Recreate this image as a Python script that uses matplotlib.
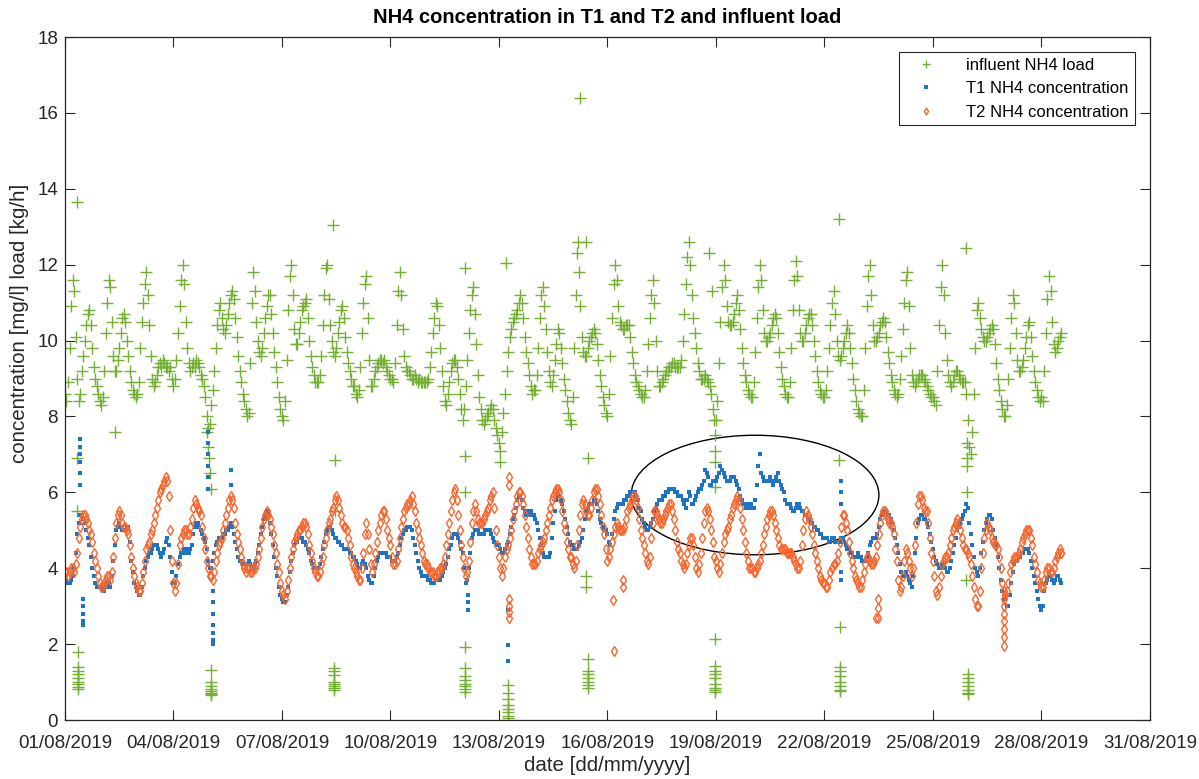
import matplotlib
matplotlib.use('Agg')
import matplotlib.pyplot as plt
import matplotlib.dates as mdates
from matplotlib.patches import Ellipse
from datetime import datetime
import numpy as np

plt.rcParams['font.family'] = ['Liberation Sans', 'DejaVu Sans']

# hourly readings from 01/08/2019 00:00, one row per day
influent = [
    [8.6, 8.4, 8.9, 9.8, 10.9, 11.6, 11.3, 10.1, 9.0, 8.4, 8.6, 9.2, 9.6, 10.0, 10.4, 10.7, 10.8, 10.4, 9.8, 9.3, 9.0, 8.8, 8.6, 8.4],
    [8.3, 8.5, 9.2, 10.2, 11.0, 11.6, 11.4, 10.5, 9.6, 9.2, 9.2, 9.5, 9.8, 10.2, 10.6, 10.7, 10.5, 10.0, 9.6, 9.2, 8.9, 8.7, 8.6, 8.5],
    [8.6, 8.9, 9.8, 10.5, 11.0, 11.5, 11.8, 11.2, 10.4, 9.6, 9.0, 8.8, 8.9, 9.1, 9.3, 9.4, 9.3, 9.5, 9.4, 9.3, 9.3, 9.2, 9.3, 9.0],
    [8.8, 9.0, 9.5, 10.2, 10.9, 11.6, 12.0, 11.5, 10.5, 9.8, 9.4, 9.2, 9.3, 9.4, 9.3, 9.5, 9.4, 9.3, 9.1, 9.0, 8.8, 8.5, 8.0, 7.7],
    [7.8, 8.3, 8.7, 9.2, 9.8, 10.4, 10.8, 11.0, 10.6, 10.3, 10.2, 10.4, 10.7, 11.0, 11.2, 11.3, 11.1, 10.6, 10.1, 9.6, 9.2, 8.9, 8.6, 8.4],
    [8.2, 8.0, 8.1, 9.4, 11.0, 11.8, 11.3, 10.5, 10.0, 9.7, 9.6, 9.8, 10.2, 10.6, 10.9, 11.2, 11.2, 10.7, 10.2, 9.7, 9.3, 8.9, 8.5, 8.2],
    [8.0, 7.9, 8.4, 9.5, 10.8, 11.7, 12.0, 11.2, 10.3, 9.9, 9.9, 10.2, 10.5, 10.8, 10.9, 11.0, 11.1, 10.6, 10.0, 9.6, 9.3, 9.1, 8.9, 8.9],
    [8.9, 9.1, 9.6, 10.4, 11.2, 11.9, 12.0, 11.1, 10.4, 10.0, 9.7, 9.6, 9.8, 10.2, 10.5, 10.8, 10.9, 10.6, 10.1, 9.7, 9.4, 9.2, 9.0, 8.8],
    [8.8, 8.6, 8.5, 8.7, 9.3, 10.2, 11.0, 11.5, 11.7, 10.6, 9.5, 8.8, 8.8, 9.0, 9.2, 9.3, 9.4, 9.5, 9.5, 9.4, 9.5, 9.3, 9.2, 9.1],
    [9.0, 9.0, 8.9, 9.4, 10.4, 11.3, 11.8, 11.2, 10.3, 9.6, 9.3, 9.2, 9.2, 9.1, 9.0, 9.0, 9.1, 9.0, 8.9, 9.0, 8.9, 8.9, 8.9, 8.9],
    [8.9, 9.0, 9.3, 9.7, 10.2, 10.6, 11.0, 10.9, 10.4, 9.8, 9.2, 8.8, 8.4, 8.3, 8.6, 8.9, 9.2, 9.4, 9.5, 9.5, 9.3, 9.0, 8.6, 8.2],
    [7.9, 8.2, 8.8, 9.5, 10.2, 10.8, 11.2, 11.4, 10.7, 9.9, 9.1, 8.5, 8.2, 7.9, 7.8, 7.9, 8.0, 8.1, 8.2, 8.3, 8.2, 7.9, 7.7, 7.5],
    [7.3, 7.1, 7.6, 8.1, 8.6, 9.2, 9.7, 10.1, 10.3, 10.5, 10.6, 10.7, 10.8, 11.0, 11.2, 11.0, 10.6, 10.1, 9.7, 9.4, 9.1, 8.8, 8.6, 8.7],
    [8.7, 9.1, 9.8, 10.6, 11.2, 11.4, 10.9, 10.3, 9.7, 9.2, 8.9, 8.8, 9.1, 9.5, 9.9, 10.3, 10.2, 9.8, 9.4, 9.0, 8.7, 8.4, 8.1, 7.9],
    [7.8, 8.5, 9.8, 11.2, 12.3, 11.8, 10.9, 10.1, 9.7, 9.6, 9.6, 9.8, 10.0, 10.1, 10.2, 10.3, 10.2, 9.9, 9.5, 9.1, 8.8, 8.5, 8.3, 8.1],
    [8.0, 8.6, 9.6, 10.6, 11.5, 12.0, 11.6, 10.9, 10.5, 10.4, 10.3, 10.3, 10.4, 10.4, 10.4, 10.1, 9.7, 9.4, 9.1, 8.9, 8.8, 8.7, 8.6, 8.5],
    [8.5, 8.7, 9.2, 9.9, 10.6, 11.2, 11.6, 11.0, 10.0, 9.2, 8.8, 8.8, 8.9, 9.0, 9.1, 9.2, 9.2, 9.3, 9.3, 9.4, 9.4, 9.3, 9.3, 9.3],
    [9.3, 9.5, 10.0, 10.7, 11.5, 12.2, 12.6, 12.0, 11.2, 10.6, 10.2, 9.8, 9.4, 9.2, 9.0, 9.0, 9.0, 9.1, 9.0, 8.9, 8.8, 8.6, 8.2, 7.9],
    [7.9, 8.4, 9.4, 10.5, 11.4, 12.0, 11.6, 10.9, 10.5, 10.4, 10.4, 10.5, 10.7, 11.0, 11.2, 10.8, 10.3, 9.8, 9.4, 9.1, 8.9, 8.7, 8.6, 8.5],
    [8.5, 8.9, 9.7, 10.6, 11.4, 12.0, 11.6, 10.8, 10.2, 10.0, 10.0, 10.1, 10.2, 10.4, 10.6, 10.7, 10.6, 10.2, 9.7, 9.3, 9.0, 8.8, 8.6, 8.5],
    [8.5, 8.9, 9.8, 10.8, 11.6, 12.1, 11.7, 10.8, 10.2, 10.0, 10.0, 10.2, 10.4, 10.6, 10.7, 10.7, 10.4, 10.0, 9.6, 9.2, 8.9, 8.7, 8.6, 8.5],
    [8.5, 8.7, 9.2, 9.8, 10.4, 11.0, 11.3, 10.7, 10.0, 9.6, 9.5, 9.6, 9.8, 10.0, 10.2, 10.4, 10.2, 9.8, 9.4, 9.0, 8.7, 8.4, 8.2, 8.1],
    [8.0, 8.0, 8.7, 9.8, 10.9, 11.7, 12.0, 11.2, 10.4, 10.0, 10.0, 10.1, 10.2, 10.4, 10.5, 10.6, 10.5, 10.1, 9.7, 9.4, 9.1, 8.9, 8.7, 8.6],
    [8.5, 8.6, 9.0, 9.6, 10.3, 11.0, 11.6, 11.8, 10.9, 9.8, 9.1, 8.9, 8.8, 8.9, 9.0, 9.1, 9.1, 9.1, 9.0, 8.9, 8.8, 8.7, 8.6, 8.5],
    [8.5, 8.4, 8.3, 9.2, 10.4, 11.4, 12.0, 11.2, 10.2, 9.5, 9.1, 8.9, 8.8, 8.9, 9.1, 9.2, 9.2, 9.1, 9.0, 8.9, 8.9, 8.9, 8.6, 7.9],
    [7.2, 7.0, 7.6, 8.6, 9.8, 10.8, 11.0, 10.6, 10.3, 10.1, 10.0, 10.0, 10.1, 10.2, 10.3, 10.4, 10.3, 9.9, 9.4, 9.0, 8.7, 8.4, 8.2, 8.0],
    [8.0, 8.3, 9.0, 9.8, 10.6, 11.2, 11.0, 10.2, 9.5, 9.2, 9.2, 9.3, 9.5, 9.8, 10.1, 10.4, 10.5, 10.1, 9.6, 9.2, 8.9, 8.7, 8.5, 8.4],
    [8.5, 8.4, 9.2, 10.2, 11.1, 11.7, 11.3, 10.5, 9.9, 9.7, 9.8, 10.0, 10.1, 10.2],
]

t1_conc = [
    [3.8, 3.7, 3.6, 3.6, 3.7, 3.8, 4.0, 4.4, 4.9, 5.2, 5.4, 5.4, 5.3, 5.2, 5.0, 4.8, 4.6, 4.3, 4.0, 3.8, 3.6, 3.5, 3.5, 3.5],
    [3.5, 3.4, 3.4, 3.5, 3.6, 3.6, 3.5, 3.8, 4.2, 4.6, 5.0, 5.1, 5.2, 5.1, 5.0, 5.0, 5.0, 5.1, 5.1, 4.7, 4.2, 3.9, 3.6, 3.5],
    [3.4, 3.3, 3.3, 3.5, 3.8, 4.0, 4.2, 4.3, 4.4, 4.4, 4.5, 4.6, 4.6, 4.6, 4.5, 4.4, 4.3, 4.4, 4.5, 4.7, 4.8, 4.6, 4.3, 3.9],
    [3.6, 3.6, 3.8, 4.1, 4.3, 4.4, 4.4, 4.5, 4.5, 4.4, 4.4, 4.5, 4.6, 4.9, 5.1, 5.2, 5.2, 5.1, 5.0, 4.9, 4.8, 4.7, 4.5, 4.2],
    [4.0, 4.0, 4.2, 4.4, 4.6, 4.7, 4.8, 4.8, 4.8, 4.9, 4.9, 5.0, 5.0, 5.1, 5.2, 5.1, 4.9, 4.7, 4.5, 4.3, 4.2, 4.2, 4.1, 4.1],
    [4.1, 4.1, 4.2, 4.1, 4.0, 4.0, 4.1, 4.2, 4.4, 4.6, 4.9, 5.1, 5.3, 5.4, 5.5, 5.4, 5.2, 4.9, 4.6, 4.3, 4.0, 3.8, 3.5, 3.3],
    [3.2, 3.1, 3.1, 3.3, 3.5, 3.9, 4.2, 4.4, 4.6, 4.7, 4.7, 4.8, 4.8, 4.8, 4.7, 4.7, 4.6, 4.5, 4.4, 4.2, 4.1, 4.0, 4.0, 4.0],
    [4.0, 4.1, 4.3, 4.5, 4.7, 4.9, 5.0, 5.1, 5.1, 5.0, 4.9, 4.8, 4.8, 4.7, 4.7, 4.6, 4.6, 4.5, 4.5, 4.5, 4.5, 4.4, 4.4, 4.3],
    [4.3, 4.2, 4.1, 4.0, 4.0, 4.1, 4.2, 4.1, 4.0, 3.8, 3.7, 3.6, 3.6, 3.8, 4.0, 4.2, 4.3, 4.4, 4.4, 4.4, 4.4, 4.4, 4.3, 4.3],
    [4.3, 4.2, 4.2, 4.2, 4.3, 4.4, 4.6, 4.8, 4.9, 5.0, 5.0, 5.1, 5.1, 5.1, 5.0, 4.8, 4.6, 4.4, 4.2, 4.0, 3.9, 3.8, 3.8, 3.8],
    [3.8, 3.7, 3.7, 3.6, 3.6, 3.6, 3.7, 3.7, 3.7, 3.7, 3.8, 3.9, 4.0, 4.1, 4.3, 4.5, 4.6, 4.8, 4.9, 4.9, 4.9, 4.8, 4.7, 4.5],
    [4.4, 4.0, 3.6, 3.7, 4.0, 4.4, 4.8, 4.9, 5.0, 5.0, 5.0, 4.9, 4.9, 4.9, 4.9, 5.0, 5.0, 5.0, 5.0, 4.9, 4.8, 4.7, 4.6, 4.6],
    [4.6, 4.5, 4.4, 4.4, 4.5, 4.6, 4.7, 4.9, 5.1, 5.3, 5.4, 5.6, 5.8, 5.9, 5.9, 5.8, 5.6, 5.5, 5.4, 5.4, 5.5, 5.5, 5.4, 5.4],
    [5.3, 5.2, 5.0, 4.8, 4.6, 4.4, 4.3, 4.3, 4.3, 4.3, 4.4, 4.8, 5.2, 5.5, 5.8, 5.9, 5.9, 5.8, 5.7, 5.5, 5.3, 5.1, 4.9, 4.7],
    [4.6, 4.6, 4.5, 4.5, 4.5, 4.6, 4.7, 4.8, 5.0, 5.3, 5.5, 5.6, 5.7, 5.7, 5.7, 5.8, 5.8, 5.7, 5.5, 5.3, 5.2, 5.1, 5.0, 5.0],
    [4.9, 4.7, 4.6, 4.9, 5.3, 5.5, 5.6, 5.7, 5.7, 5.7, 5.7, 5.8, 5.8, 5.9, 5.9, 6.0, 6.0, 6.0, 6.0, 5.9, 5.8, 5.6, 5.5, 5.3],
    [5.2, 5.1, 5.0, 5.0, 5.1, 5.2, 5.3, 5.5, 5.6, 5.7, 5.8, 5.8, 5.8, 5.9, 5.9, 6.0, 6.0, 6.1, 6.1, 6.1, 6.1, 6.0, 6.0, 5.9],
    [5.9, 5.9, 5.8, 5.7, 5.6, 5.8, 6.0, 5.9, 5.7, 5.7, 5.8, 5.9, 6.0, 6.1, 6.1, 6.2, 6.3, 6.6, 6.5, 6.4, 6.2, 6.2, 6.3, 6.3],
    [6.3, 6.4, 6.5, 6.7, 6.6, 6.5, 6.4, 6.3, 6.3, 6.3, 6.4, 6.4, 6.4, 6.3, 6.2, 6.1, 5.9, 5.8, 5.7, 5.7, 5.6, 5.6, 5.7, 5.7],
    [5.6, 5.6, 5.8, 6.2, 6.7, 7.0, 6.5, 6.4, 6.3, 6.3, 6.3, 6.3, 6.4, 6.3, 6.2, 6.3, 6.4, 6.5, 6.3, 6.2, 6.1, 6.0, 5.8, 5.7],
    [5.7, 5.7, 5.6, 5.5, 5.5, 5.6, 5.7, 5.7, 5.6, 5.5, 5.5, 5.4, 5.4, 5.3, 5.3, 5.2, 5.2, 5.1, 5.1, 5.0, 5.0, 4.9, 4.9, 4.8],
    [4.8, 4.8, 4.8, 4.7, 4.7, 4.8, 4.8, 4.7, 4.7, 4.7, 4.7, 4.8, 4.8, 4.7, 4.6, 4.5, 4.5, 4.4, 4.4, 4.3, 4.3, 4.3, 4.4, 4.3],
    [4.3, 4.2, 4.2, 4.2, 4.3, 4.4, 4.6, 4.7, 4.8, 4.8, 4.8, 4.9, 5.1, 5.3, 5.4, 5.5, 5.5, 5.5, 5.4, 5.4, 5.3, 5.2, 5.0, 4.8],
    [4.6, 4.4, 4.1, 3.9, 3.8, 3.8, 3.9, 3.8, 3.7, 3.6, 3.5, 3.8, 4.4, 4.8, 5.2, 5.3, 5.4, 5.4, 5.3, 5.3, 5.2, 5.1, 4.9, 4.7],
    [4.5, 4.3, 4.2, 4.1, 4.0, 4.0, 4.1, 4.1, 4.0, 3.9, 3.9, 4.0, 4.2, 4.4, 4.6, 4.8, 5.0, 5.1, 5.2, 5.3, 5.4, 5.5, 5.7, 5.6],
    [5.2, 4.9, 4.6, 4.3, 4.0, 3.9, 3.8, 4.0, 4.4, 4.7, 5.0, 5.2, 5.3, 5.4, 5.4, 5.3, 5.0, 4.8, 4.6, 4.3, 4.0, 3.7, 3.4, 3.2],
    [3.2, 3.0, 3.0, 3.3, 3.6, 3.9, 4.1, 4.2, 4.2, 4.3, 4.3, 4.4, 4.4, 4.5, 4.5, 4.5, 4.4, 4.2, 4.0, 3.8, 3.6, 3.4, 3.2, 3.0],
    [2.9, 3.0, 3.4, 3.6, 3.7, 3.8, 3.8, 3.7, 3.6, 3.7, 3.8, 3.8, 3.7, 3.6],
]

t2_conc = [
    [3.9, 3.9, 3.8, 3.9, 4.0, 4.0, 3.9, 4.1, 4.4, 4.8, 5.1, 5.3, 5.4, 5.4, 5.3, 5.2, 5.0, 4.9, 4.7, 4.4, 4.2, 4.0, 3.8, 3.6],
    [3.5, 3.5, 3.6, 3.7, 3.8, 3.8, 3.7, 3.9, 4.3, 4.8, 5.2, 5.4, 5.5, 5.4, 5.2, 5.1, 5.1, 5.0, 4.9, 4.6, 4.3, 4.0, 3.8, 3.6],
    [3.5, 3.4, 3.4, 3.6, 3.9, 4.2, 4.5, 4.6, 4.7, 4.9, 5.0, 5.2, 5.4, 5.6, 5.8, 6.0, 6.1, 6.2, 6.3, 6.4, 6.3, 5.9, 5.0, 4.2],
    [3.6, 3.4, 3.6, 4.1, 4.6, 4.8, 4.9, 5.0, 5.0, 4.9, 4.9, 5.1, 5.3, 5.6, 5.8, 5.7, 5.6, 5.5, 5.4, 5.1, 4.8, 4.5, 4.2, 4.0],
    [3.8, 3.8, 3.7, 3.9, 4.2, 4.4, 4.6, 4.7, 4.8, 5.0, 5.2, 5.4, 5.6, 5.8, 5.9, 5.8, 5.6, 5.2, 4.9, 4.7, 4.5, 4.3, 4.1, 4.0],
    [3.9, 4.0, 4.0, 3.9, 3.9, 4.0, 4.0, 4.1, 4.3, 4.5, 4.8, 5.1, 5.3, 5.4, 5.5, 5.4, 5.3, 5.1, 4.9, 4.6, 4.4, 4.1, 3.9, 3.6],
    [3.4, 3.3, 3.2, 3.4, 3.7, 4.0, 4.3, 4.5, 4.7, 4.8, 4.9, 5.0, 5.0, 5.1, 5.2, 5.2, 5.1, 4.9, 4.6, 4.4, 4.2, 4.0, 3.9, 3.8],
    [3.8, 3.9, 4.1, 4.3, 4.6, 4.8, 5.0, 5.2, 5.3, 5.5, 5.6, 5.8, 5.9, 5.8, 5.6, 5.4, 5.2, 5.1, 5.1, 5.0, 4.8, 4.6, 4.3, 4.1],
    [4.0, 3.9, 3.8, 3.7, 3.7, 4.0, 4.4, 4.9, 5.2, 4.9, 4.5, 4.1, 3.9, 4.1, 4.4, 4.7, 5.0, 5.2, 5.4, 5.5, 5.5, 5.3, 5.0, 4.8],
    [4.6, 4.3, 4.1, 4.1, 4.2, 4.5, 4.8, 5.1, 5.3, 5.5, 5.6, 5.7, 5.7, 5.8, 5.9, 5.7, 5.5, 5.2, 5.0, 4.8, 4.6, 4.4, 4.2, 4.1],
    [4.1, 4.0, 3.9, 3.9, 3.9, 3.8, 3.8, 3.9, 3.9, 4.0, 4.0, 4.1, 4.3, 4.6, 4.9, 5.2, 5.5, 5.8, 6.0, 6.1, 5.8, 5.4, 5.0, 4.6],
    [4.3, 4.0, 3.8, 3.9, 4.2, 4.7, 5.2, 5.5, 5.7, 5.5, 5.3, 5.2, 5.2, 5.2, 5.3, 5.4, 5.5, 5.6, 5.8, 5.9, 6.0, 5.6, 5.0, 4.6],
    [4.3, 4.0, 3.8, 4.0, 4.3, 4.5, 4.6, 4.8, 5.0, 5.3, 5.5, 5.7, 5.9, 6.0, 6.0, 5.9, 5.7, 5.4, 5.1, 4.8, 4.5, 4.3, 4.1, 4.1],
    [4.1, 4.2, 4.4, 4.5, 4.6, 4.7, 4.8, 5.0, 5.2, 5.4, 5.6, 5.8, 5.9, 6.0, 6.1, 6.1, 6.0, 5.8, 5.5, 5.2, 5.0, 4.7, 4.5, 4.3],
    [4.3, 4.1, 4.0, 4.2, 4.6, 5.0, 5.4, 5.7, 5.8, 5.7, 5.5, 5.4, 5.4, 5.6, 5.8, 6.0, 6.1, 6.1, 5.9, 5.7, 5.4, 5.1, 4.9, 4.5],
    [4.2, 4.3, 4.5, 4.7, 4.9, 5.1, 5.2, 5.1, 5.0, 5.0, 5.0, 5.1, 5.3, 5.5, 5.6, 5.7, 5.8, 5.9, 5.9, 5.8, 5.6, 5.3, 5.0, 4.8],
    [4.6, 4.4, 4.2, 4.1, 4.3, 4.8, 5.2, 5.5, 5.5, 5.4, 5.3, 5.2, 5.2, 5.3, 5.4, 5.5, 5.6, 5.7, 5.7, 5.5, 5.3, 5.0, 4.7, 4.5],
    [4.4, 4.2, 4.1, 4.0, 4.1, 4.4, 4.6, 4.8, 4.8, 4.6, 4.3, 4.0, 3.9, 4.1, 4.4, 4.8, 5.2, 5.5, 5.6, 5.5, 5.3, 5.0, 4.7, 4.3],
    [4.2, 4.0, 3.9, 4.1, 4.4, 4.7, 4.9, 5.0, 5.1, 5.3, 5.4, 5.6, 5.7, 5.8, 5.9, 5.8, 5.6, 5.3, 5.0, 4.7, 4.4, 4.2, 4.0, 4.0],
    [4.0, 3.9, 3.9, 4.0, 4.1, 4.2, 4.4, 4.6, 4.9, 5.1, 5.3, 5.4, 5.5, 5.5, 5.4, 5.2, 5.0, 4.8, 4.6, 4.5, 4.5, 4.5, 4.5, 4.4],
    [4.4, 4.4, 4.4, 4.3, 4.2, 4.1, 4.0, 4.0, 4.2, 4.6, 5.0, 5.3, 5.5, 5.4, 5.3, 5.1, 4.9, 4.6, 4.4, 4.2, 4.0, 3.8, 3.7, 3.6],
    [3.6, 3.5, 3.5, 3.7, 3.9, 4.0, 4.1, 4.1, 4.2, 4.4, 4.7, 5.1, 5.4, 5.4, 5.2, 5.0, 4.7, 4.4, 4.2, 4.0, 3.8, 3.7, 3.6, 3.5],
    [3.5, 3.7, 3.9, 4.1, 4.3, 4.3, 4.2, 4.1, 4.1, 4.2, 4.3, 4.6, 4.9, 5.2, 5.4, 5.5, 5.5, 5.4, 5.3, 5.2, 5.2, 5.1, 4.9, 4.5],
    [4.2, 3.7, 3.4, 3.5, 3.8, 4.2, 4.5, 4.4, 4.2, 4.0, 3.8, 4.0, 4.6, 5.2, 5.7, 5.9, 5.9, 5.8, 5.6, 5.5, 5.5, 5.2, 4.8, 4.4],
    [4.2, 3.8, 3.4, 3.3, 3.5, 3.8, 4.1, 4.2, 4.3, 4.3, 4.4, 4.6, 4.8, 5.0, 5.1, 5.2, 5.3, 5.2, 5.0, 4.8, 4.6, 4.5, 4.5, 4.4],
    [4.3, 4.1, 3.8, 3.5, 3.2, 3.0, 3.0, 3.4, 4.0, 4.4, 4.8, 5.0, 5.2, 5.1, 5.0, 4.8, 4.7, 4.6, 4.6, 4.5, 4.3, 4.0, 3.6, 3.4],
    [3.3, 3.4, 3.6, 3.9, 4.1, 4.2, 4.3, 4.3, 4.3, 4.4, 4.5, 4.7, 4.8, 4.9, 5.0, 5.0, 5.0, 4.8, 4.6, 4.3, 4.1, 3.9, 3.7, 3.6],
    [3.5, 3.5, 3.7, 3.9, 4.0, 4.0, 3.9, 3.9, 4.0, 4.2, 4.3, 4.4, 4.5, 4.4],
]

# isolated readings: day offset from 01/08/2019 and value
infl_extra_day = [0.32, 0.32, 0.32, 1.38, 3.92, 3.95, 3.98, 4.02, 4.05, 7.40, 7.46, 7.47,
                  11.05, 11.05, 11.05, 12.02, 12.20, 14.18, 14.23, 14.41, 14.41, 14.41, 14.46,
                  17.80, 17.90, 17.96, 17.96, 17.96, 17.96, 21.40, 21.41, 24.90, 24.91,
                  24.95, 24.95, 24.95, 24.95]
infl_extra_val = [13.65, 6.9, 5.5, 7.6, 7.6, 7.2, 6.9, 6.5, 6.1, 13.05, 6.85, 5.5,
                  11.9, 6.95, 6.0, 6.8, 12.05, 12.6, 16.4, 12.6, 3.8, 3.5, 6.9,
                  12.3, 11.3, 7.5, 7.1, 6.8, 6.15, 13.2, 6.85, 12.45, 3.7,
                  7.3, 6.9, 6.7, 6.0]

infl_low_day = ([0.35] * 9 + [4.03] * 8 + [7.43] * 8 + [11.06] * 8 + [12.26] * 8
                + [14.45] * 7 + [17.96] * 9 + [21.43] * 8 + [24.96] * 7)
infl_low_val = [1.78, 1.39, 1.3, 1.2, 1.1, 1.0, 0.95, 0.88, 0.82,
                1.33, 1.0, 0.9, 0.82, 0.76, 0.72, 0.68, 0.65,
                1.38, 1.28, 1.18, 1.0, 0.95, 0.9, 0.85, 0.8,
                1.92, 1.38, 1.15, 1.05, 0.95, 0.9, 0.82, 0.75,
                0.92, 0.72, 0.55, 0.4, 0.3, 0.2, 0.1, 0.05,
                1.62, 1.3, 1.2, 1.1, 1.0, 0.92, 0.85,
                2.13, 1.43, 1.3, 1.2, 1.1, 0.95, 0.85, 0.8, 0.73,
                2.46, 1.39, 1.3, 1.15, 1.0, 0.9, 0.8, 0.77,
                1.21, 1.1, 1.0, 0.9, 0.8, 0.72, 0.68]

t1_extra_day = ([0.42] * 6 + [0.50] * 5 + [3.96] * 6 + [4.10] * 7 + [4.60] * 2
                + [11.14] * 3 + [12.26] * 3 + [21.45] * 5)
t1_extra_val = [7.4, 7.2, 7.0, 6.8, 6.5, 6.2,
                2.6, 2.8, 3.0, 3.2, 2.5,
                7.6, 7.3, 7.0, 6.7, 6.4, 6.1,
                2.1, 2.3, 2.5, 2.8, 3.1, 3.4, 2.0,
                6.6, 6.2,
                2.9, 3.1, 3.3,
                1.97, 1.55, 2.9,
                6.3, 6.0, 5.7, 3.9, 3.7]

t2_extra_day = ([12.28] * 6 + [15.15, 15.18, 15.43, 15.43] + [22.42] + [22.47] * 3
                + [25.97] * 7 + [27.55])
t2_extra_val = [6.4, 6.2, 3.2, 3.0, 2.85, 2.7,
                3.15, 1.82, 3.5, 3.7, 2.7,
                3.2, 2.95, 2.7,
                3.2, 3.0, 2.8, 2.6, 2.4, 2.2, 1.95, 4.4]

series_labels = ['influent NH4 load', 'T1 NH4 concentration', 'T2 NH4 concentration']
tick_days = list(range(0, 31, 3))

start = mdates.date2num(datetime(2019, 8, 1))


def flatten(rows):
    vals = np.concatenate([np.asarray(r, dtype=float) for r in rows])
    t = start + np.arange(len(vals)) / 24.0
    return t, vals


green = '#74AE33'
blue = '#1E74C4'
orange = '#F9652B'

fig = plt.figure(figsize=(11.99, 7.79), dpi=100)
ax = fig.add_axes([0.0542, 0.0757, 0.9049, 0.8768])

t, v = flatten(influent)
tx = np.concatenate([t, start + np.array(infl_extra_day), start + np.array(infl_low_day)])
vx = np.concatenate([v, infl_extra_val, infl_low_val])
ax.plot(tx, vx, linestyle='none', marker='+', ms=8, mew=1.0, color=green, label=series_labels[0])

t, v = flatten(t1_conc)
tx = np.concatenate([t, start + np.array(t1_extra_day)])
vx = np.concatenate([v, t1_extra_val])
ax.plot(tx, vx, linestyle='none', marker='s', ms=3.2, mew=0, color=blue, label=series_labels[1])

t, v = flatten(t2_conc)
tx = np.concatenate([t, start + np.array(t2_extra_day)])
vx = np.concatenate([v, t2_extra_val])
ax.plot(tx, vx, linestyle='none', marker='d', ms=5, mew=1.0, mfc='none', color=orange,
        label=series_labels[2])

# highlighted region
ax.add_patch(Ellipse((start + 19.08, 5.93), 6.85, 3.15, fill=False, ec='black', lw=1.0))

ax.set_xlim(start, start + 30)
ax.set_ylim(0, 18)
ax.set_xticks([start + d for d in tick_days])
ax.xaxis.set_major_formatter(mdates.DateFormatter('%d/%m/%Y'))
ax.set_yticks(np.arange(0, 19, 2))
ax.tick_params(direction='in', length=7, width=0.8, top=True, right=True,
               labelsize=13.5, colors='#262626', pad=5)
ax.tick_params(axis='x', pad=10.5)
for s in ax.spines.values():
    s.set_color('#262626')
    s.set_linewidth(0.9)

ax.set_title('NH4 concentration in T1 and T2 and influent load', fontsize=14.5,
             fontweight='bold', pad=10)
ax.set_xlabel('date [dd/mm/yyyy]', fontsize=14.8, color='#262626', labelpad=3)
ax.set_ylabel('concentration [mg/l] load [kg/h]', fontsize=14.8, color='#262626')
ax.yaxis.set_label_coords(-0.033, 0.581)

leg = ax.legend(loc='upper right', bbox_to_anchor=(0.986, 0.978), borderaxespad=0,
                fontsize=12, fancybox=False, edgecolor='#262626', framealpha=1,
                handlelength=2.5, handletextpad=1.2, borderpad=0.35, labelspacing=0.5,
                markerscale=0.7)
leg.get_frame().set_linewidth(0.8)

fig.savefig('out.png', dpi=100)
